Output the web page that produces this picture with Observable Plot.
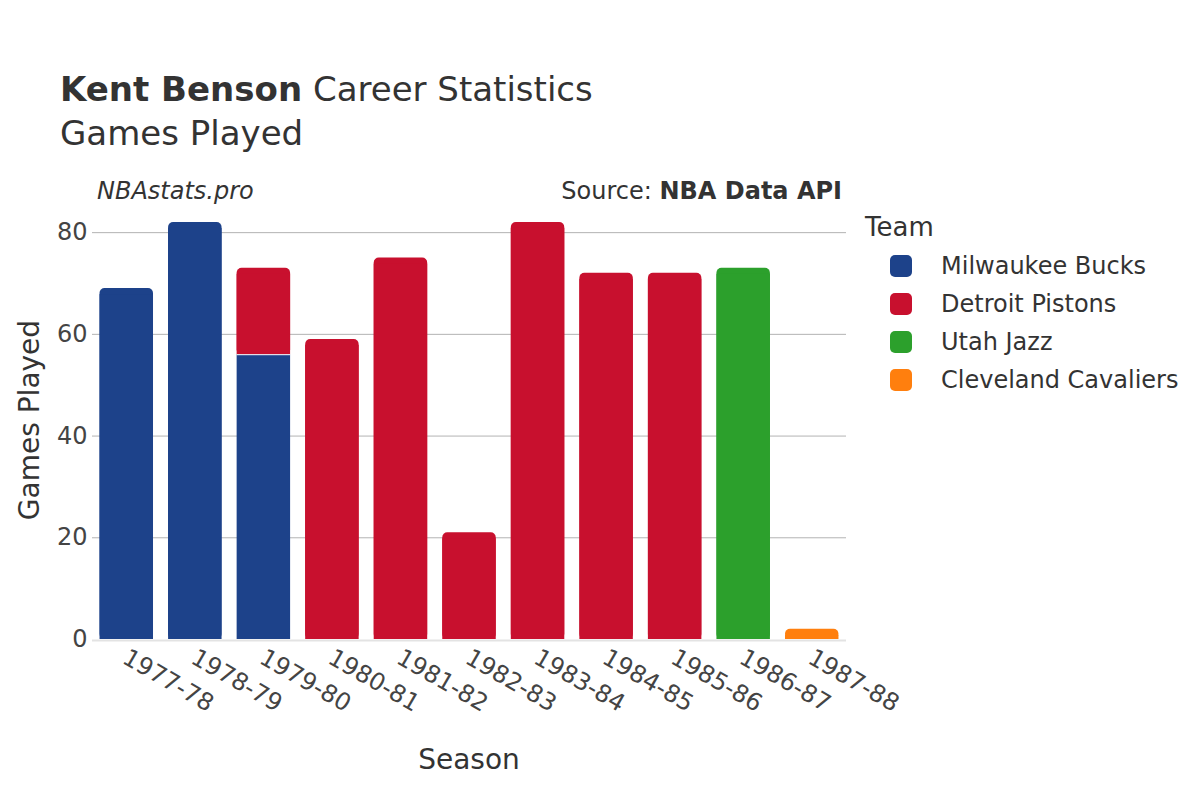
<!DOCTYPE html>
<html><head><meta charset="utf-8">
<script src="https://cdn.jsdelivr.net/npm/d3@7"></script>
<script src="https://cdn.jsdelivr.net/npm/@observablehq/plot@0.6"></script>
<style>
body{margin:0;background:#fff;font-family:"DejaVu Sans",sans-serif;color:#333}
#wrap{position:relative;width:1200px;height:800px;overflow:hidden}
.abs{position:absolute;white-space:nowrap}
</style></head><body><div id="wrap"></div>
<script>
const seasons = ["1977-78","1978-79","1979-80","1980-81","1981-82","1982-83","1983-84","1984-85","1985-86","1986-87","1987-88"];
const rowSeason = ["1977-78","1978-79","1979-80","1979-80","1980-81","1981-82","1982-83","1983-84","1984-85","1985-86","1986-87","1987-88"];
const rowTeam = ["Milwaukee Bucks","Milwaukee Bucks","Milwaukee Bucks","Detroit Pistons","Detroit Pistons","Detroit Pistons","Detroit Pistons","Detroit Pistons","Detroit Pistons","Detroit Pistons","Utah Jazz","Cleveland Cavaliers"];
const rowGames = [69,82,56,17,59,75,21,82,72,72,73,2];
const teams = ["Milwaukee Bucks","Detroit Pistons","Utah Jazz","Cleveland Cavaliers"];
const teamColors = ["#1d428a","#c8102e","#2ca02c","#ff7f0e"];
const yTicks = [0,20,40,60,80];
const gridTicks = [20,40,60,80];

// build stacked table
const cum = new Map();
const rows = rowSeason.map((s,i)=>{
  const base = cum.get(s) || 0;
  cum.set(s, base + rowGames[i]);
  return {season:s, team:rowTeam[i], games:rowGames[i], y1:base, y2:base+rowGames[i]};
});
rows.forEach(r=>{ r.top = r.y2 === cum.get(r.season); });
const topRows = rows.filter(r=>r.top);
const innerRows = rows.filter(r=>!r.top);
const joins = rows.filter(r=>r.y1>0);

const chart = Plot.plot({
  width:1200, height:800,
  marginLeft:92, marginRight:354, marginTop:200, marginBottom:161,
  x:{domain:seasons, paddingInner:0.22, paddingOuter:0.11, round:false, label:null},
  y:{domain:[0,86.32], label:null},
  color:{domain:teams, range:teamColors},
  style:{fontFamily:"DejaVu Sans", fontSize:"24px", color:"#444", background:"transparent"},
  marks:[
    Plot.ruleY(gridTicks, {stroke:"#b3b3b3", strokeWidth:1}),
    Plot.ruleY([0], {stroke:"#e3e3e3", strokeWidth:2, dy:1}),
    Plot.barY(innerRows, {x:"season", y1:"y1", y2:"y2", fill:"team"}),
    Plot.barY(topRows, {x:"season", y1:"y1", y2:"y2", fill:"team", rx:5}),
    Plot.barY(topRows, {x:"season", y1:"y1", y2:"y2", fill:"team", insetTop:6}),
    Plot.tickY(joins, {x:"season", y:"y1", stroke:"#fff", strokeWidth:1}),
    Plot.axisX({tickSize:0, tickRotate:30, tickPadding:10, dx:-2, dy:6, label:null, fill:"#444"}),
    Plot.axisY({ticks:yTicks, tickSize:0, tickPadding:5, label:null, fill:"#444"})
  ]
});
const wrap = document.getElementById("wrap");
chart.style.position = "absolute"; chart.style.left = "0"; chart.style.top = "0";
wrap.appendChild(chart);

function addText(html, css){
  const d = document.createElement("div");
  d.className = "abs"; d.innerHTML = html; d.style.cssText += css;
  wrap.appendChild(d); return d;
}
addText('<b>Kent Benson</b> Career Statistics', 'left:60px;top:72px;font-size:34px;line-height:34px;color:#333');
addText('Games Played', 'left:60px;top:116px;font-size:34px;line-height:34px;color:#333');
addText('<i>NBAstats.pro</i>', 'left:97px;top:179px;font-size:24px;line-height:24px;color:#333');
addText('Source: <b>NBA Data API</b>', 'right:358px;top:179px;font-size:24px;line-height:24px;color:#333');
addText('Season', 'left:469px;top:760px;transform:translate(-50%,-50%);font-size:28px;line-height:28px;color:#333');
addText('Games Played', 'left:30px;top:420px;transform:translate(-50%,-50%) rotate(-90deg);font-size:28px;line-height:28px;color:#333');
addText('Team', 'left:865px;top:214px;font-size:26px;line-height:26px;color:#333');
teams.forEach((t,i)=>{
  const cy = 266 + i*38;
  addText('', `left:890px;top:${cy-11}px;width:22px;height:22px;border-radius:5px;background:${teamColors[i]}`);
  addText(t, `left:941px;top:${cy-12}px;font-size:24px;line-height:24px;color:#333`);
});
</script>
</body></html>
